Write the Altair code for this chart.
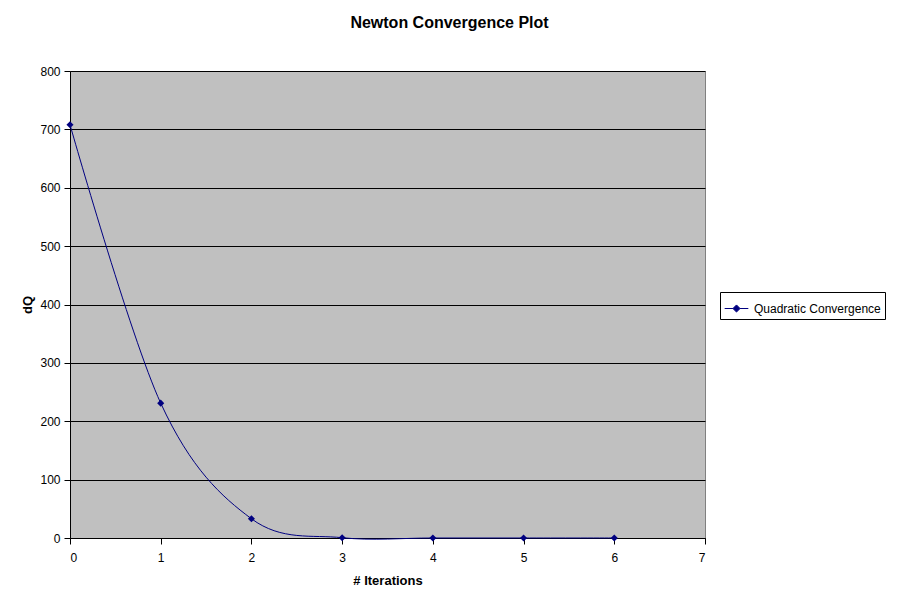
import altair as alt
import pandas as pd

iterations = [0, 1, 2, 3, 4, 5, 6]
dq = [708, 231, 33, 0.5, 0, 0, 0]
series = ["Quadratic Convergence"] * len(iterations)

df = pd.DataFrame({"iter": iterations, "dQ": dq, "series": series})

font = "Liberation Sans"
navy = "#000080"

legend_symbol = "M-1,0L-0.3,0M0.3,0L1,0M0,-0.3L0.3,0L0,0.3L-0.3,0Z"

base = alt.Chart(df).encode(
    x=alt.X("iter:Q", title="# Iterations",
            scale=alt.Scale(domain=[0, 7], nice=False, zero=False),
            axis=alt.Axis(values=list(range(8)), grid=False, tickSize=6,
                          domainColor="black", tickColor="black",
                          labelFont=font, labelFontSize=12, labelColor="black",
                          labelPadding=8,
                          titleFont=font, titleFontSize=13, titleFontWeight="bold",
                          titleColor="black", titlePadding=11)),
    y=alt.Y("dQ:Q", title="dQ",
            scale=alt.Scale(domain=[0, 800], nice=False),
            axis=alt.Axis(values=list(range(0, 801, 100)), grid=True,
                          gridColor="black", gridWidth=1, gridOpacity=1,
                          tickSize=6, domainColor="black", tickColor="black",
                          labelFont=font, labelFontSize=12, labelColor="black",
                          labelPadding=4,
                          titleFont=font, titleFontSize=13, titleFontWeight="bold",
                          titleColor="black", titlePadding=5)),
    color=alt.Color("series:N", title=None,
                    scale=alt.Scale(range=[navy]),
                    legend=alt.Legend(orient="none", legendX=650, legendY=221,
                                      symbolType=legend_symbol, symbolSize=560,
                                      symbolStrokeWidth=1, symbolFillColor=navy,
                                      strokeColor="black", fillColor="white",
                                      padding=4, labelFont=font, labelFontSize=12,
                                      labelColor="black", labelOffset=5)),
)

line = base.mark_line(interpolate="cardinal", strokeWidth=1)
pts = base.mark_point(shape="diamond", filled=True, size=50, opacity=1)

chart = alt.layer(line, pts).properties(
    width=635, height=467,
    title=alt.TitleParams("Newton Convergence Plot", font=font, fontSize=16,
                          fontWeight="bold", color="black", dx=62, offset=34,
                          anchor="middle"),
    autosize=alt.AutoSizeParams(type="none"),
    padding={"left": 62, "top": 63, "right": 184, "bottom": 55},
).configure(background="white").configure_view(
    fill="#C0C0C0", stroke="#808080", strokeWidth=1)

chart.save("out.html", embed_options={"renderer": "svg", "actions": False})
